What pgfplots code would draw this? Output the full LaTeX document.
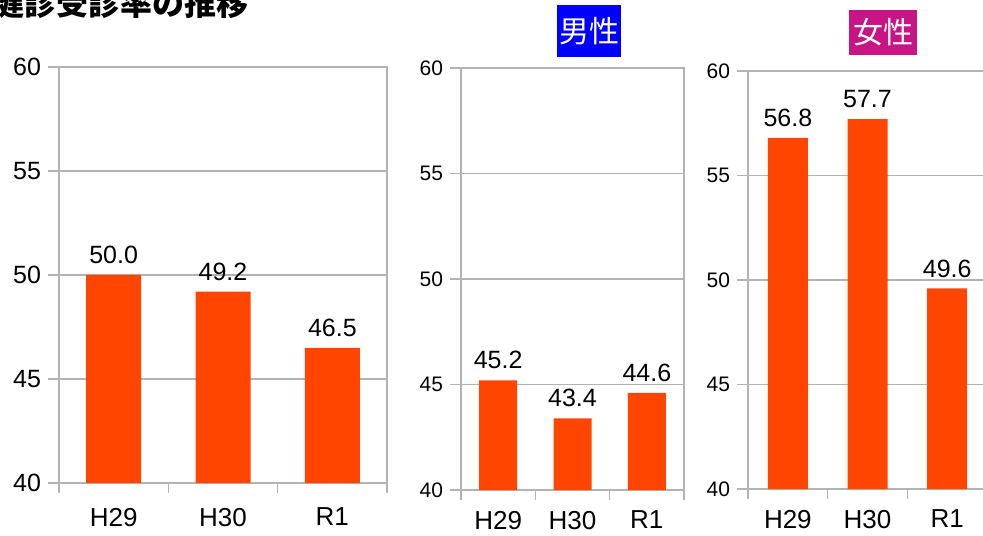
\documentclass[border=0pt]{standalone}
\usepackage{fontspec}
\setmainfont{Liberation Sans}
\newfontfamily\cjk{Noto Sans CJK JP}
\usepackage{pgfplots}
\pgfplotsset{compat=1.18}
\definecolor{barc}{RGB}{255,69,0}
\definecolor{gridc}{RGB}{179,179,179}
\definecolor{fem}{RGB}{199,21,133}

\pgfplotsset{
  rate/.style={
    scale only axis,
    anchor=south west,
    ybar,
    ymin=40, ymax=60, ytick={40,45,50,55,60},
    xmin=0.5, xmax=3.5,
    xtick={1,2,3}, xticklabels={H29,H30,R1},
    minor xtick={0.5,1.5,2.5,3.5},
    major x tick style={draw=none},
    minor x tick style={gridc, line width=0.8pt},
    tick align=outside,
    tick pos=left,
    major tick length=5.5pt,
    minor tick length=5pt,
    ytick style={gridc, line width=0.8pt},
    ymajorgrids,
    major grid style={gridc, line width=0.8pt},
    axis line style={gridc, line width=0.8pt},
    /pgf/number format/assume math mode=true,
    nodes near coords,
    every node near coord/.append style={black, font=\fontsize{12.5}{14}\selectfont,
      /pgf/number format/fixed, /pgf/number format/fixed zerofill,
      /pgf/number format/precision=1, yshift=2pt},
    clip=false,
  },
}

\begin{document}
\begin{tikzpicture}[x=0.5pt,y=0.5pt]

\node[anchor=base west, inner sep=0pt, font=\fontsize{16}{18}\selectfont\bfseries\cjk] at (-8,519) {健診受診率の推移};

\begin{axis}[rate, at={(29.5pt,26pt)}, width=164pt, height=208pt,
  bar width=27.5pt,
  yticklabel style={font=\fontsize{12.5}{14}\selectfont},
  xticklabel style={font=\fontsize{13}{15}\selectfont, yshift=-3.5pt}]
\addplot[fill=barc, draw=none] coordinates {(1,50.0) (2,49.2) (3,46.5)};
\end{axis}

\begin{axis}[rate, at={(230.5pt,22.5pt)}, width=111.5pt, height=211pt,
  bar width=19pt,
  yticklabel style={font=\fontsize{10.5}{12}\selectfont},
  xticklabel style={font=\fontsize{13}{15}\selectfont, yshift=-1.5pt}]
\addplot[fill=barc, draw=none] coordinates {(1,45.2) (2,43.4) (3,44.6)};
\end{axis}

\begin{axis}[rate, at={(374pt,23pt)}, width=119.5pt, height=209pt,
  bar width=20pt,
  yticklabel style={font=\fontsize{10.5}{12}\selectfont},
  xticklabel style={font=\fontsize{13}{15}\selectfont, yshift=-1.5pt}]
\addplot[fill=barc, draw=none] coordinates {(1,56.8) (2,57.7) (3,49.6)};
\end{axis}

\node[fill=blue, text=white, font=\fontsize{15}{17}\selectfont\cjk,
  minimum width=32pt, minimum height=26pt, inner sep=0pt] at (589,504) {男性};
\node[fill=fem, text=white, font=\fontsize{15}{17}\selectfont\cjk,
  minimum width=34pt, minimum height=22.5pt, inner sep=0pt] at (883,502.5) {女性};

\pgfresetboundingbox
\path[use as bounding box] (0,0) rectangle (983,535);
\end{tikzpicture}
\end{document}
